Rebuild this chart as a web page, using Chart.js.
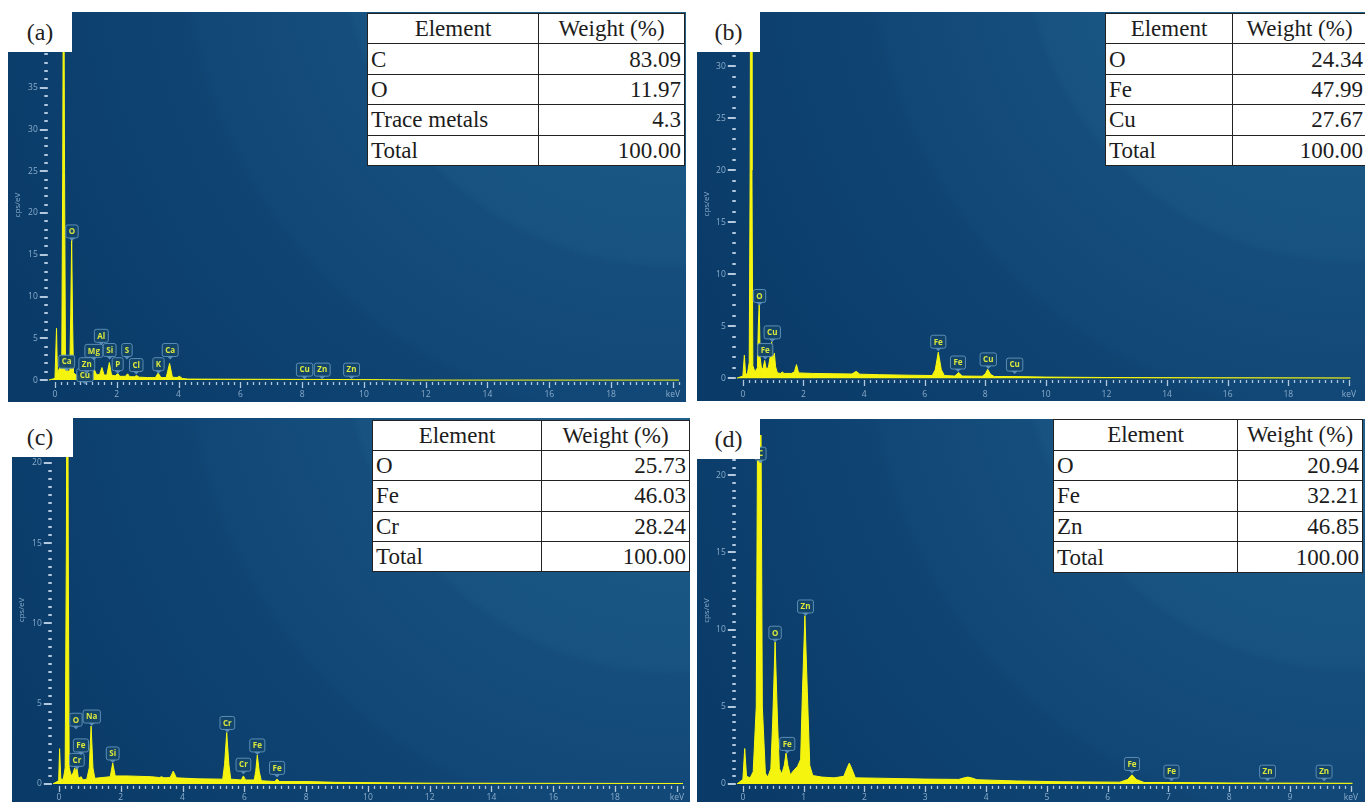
<!DOCTYPE html>
<html>
<head>
<meta charset="utf-8">
<script src="https://cdn.jsdelivr.net/npm/chart.js@4.4.0/dist/chart.umd.min.js"></script>
<style>
  html, body { margin: 0; padding: 0; background: #fff; }
  body { width: 1365px; height: 802px; position: relative; overflow: hidden; }
  .panel { position: absolute; }
  .panel canvas { display: block; }
  .tag { position: absolute; background: #fff; font-family: "Liberation Serif", "Times New Roman", serif;
         font-size: 24px; color: #222; display: flex; align-items: center; justify-content: center; }
  table.wt { position: absolute; border-collapse: collapse; background: #fff; table-layout: fixed;
             font-family: "Liberation Serif", "Times New Roman", serif; font-size: 23px; color: #1c1c1c; }
  table.wt td { border: 1.6px solid #222; padding: 0 3px; line-height: 1; white-space: nowrap; overflow: hidden; }
  table.wt td.c { text-align: center; }
  table.wt td.r { text-align: right; }
</style>
</head>
<body>

<div class="panel" style="left:8px;top:12px;"><canvas id="chartA" width="678" height="390"></canvas></div>
<div class="panel" style="left:697px;top:12px;"><canvas id="chartB" width="668" height="389"></canvas></div>
<div class="panel" style="left:12px;top:418px;"><canvas id="chartC" width="678" height="384"></canvas></div>
<div class="panel" style="left:697px;top:419px;"><canvas id="chartD" width="668" height="383"></canvas></div>

<div class="tag" style="left:8px;top:12px;width:64px;height:40px;">(a)</div>
<div class="tag" style="left:697px;top:12px;width:63px;height:40px;">(b)</div>
<div class="tag" style="left:7px;top:417px;width:66px;height:40px;">(c)</div>
<div class="tag" style="left:697px;top:419px;width:63px;height:40px;">(d)</div>

<script>
// ---- spectra: [keV, cps/eV] ----
const spectrumA = [
  [-0.2,0],[0.0,0.2],[0.05,6.2],[0.08,0.6],[0.12,1.2],[0.17,1.6],[0.22,2.0],[0.25,25],[0.28,60],[0.31,25],
  [0.34,1.8],[0.38,1.5],[0.43,1.0],[0.48,1.2],[0.51,8],[0.54,17],[0.57,7],[0.6,0.9],[0.68,0.6],[0.8,0.5],
  [0.95,0.6],[1.03,0.9],[1.1,0.6],[1.2,0.7],[1.28,1.2],[1.35,0.6],[1.45,0.7],[1.52,1.5],[1.59,0.6],[1.68,0.6],
  [1.76,2.1],[1.83,0.6],[1.95,0.5],[2.03,0.8],[2.1,0.45],[2.28,0.45],[2.35,0.75],[2.42,0.4],[2.57,0.4],[2.64,0.55],
  [2.72,0.35],[3.0,0.3],[3.25,0.3],[3.34,0.85],[3.43,0.3],[3.6,0.3],[3.71,2.0],[3.8,0.35],[3.95,0.3],[4.03,0.45],
  [4.12,0.2],[4.3,0.12],[6.0,0.1],[8.05,0.08],[10.5,0.05],[11.5,0],[20.2,0]
];
const spectrumB = [
  [-0.2,0],[0.0,0.2],[0.05,2.2],[0.09,0.4],[0.15,0.4],[0.21,1.5],[0.24,20],[0.27,60],[0.30,20],[0.33,1.2],
  [0.4,0.6],[0.48,1.0],[0.51,5],[0.54,7.1],[0.57,2],[0.62,0.8],[0.67,1.0],[0.72,1.7],[0.77,0.9],[0.84,1.0],
  [0.91,2.2],[0.95,3.5],[0.99,1.8],[1.04,2.4],[1.08,1.1],[1.14,0.5],[1.25,0.45],[1.3,0.6],[1.36,0.45],[1.6,0.45],
  [1.7,0.6],[1.77,1.3],[1.84,0.5],[2.3,0.45],[3.0,0.42],[3.6,0.4],[3.74,0.65],[3.86,0.38],[4.5,0.33],[5.5,0.28],
  [6.25,0.25],[6.35,0.8],[6.45,2.5],[6.55,0.8],[6.65,0.25],[7.0,0.2],[7.12,0.55],[7.24,0.2],[7.9,0.18],[8.0,0.4],
  [8.08,0.85],[8.18,0.35],[8.3,0.15],[8.95,0.15],[10,0.1],[12,0.06],[15,0.04],[20.06,0.02]
];
const spectrumC = [
  [-0.2,0],[-0.01,0.2],[0.02,2.2],[0.06,0.3],[0.14,0.3],[0.2,1.0],[0.24,15],[0.27,40],[0.3,15],[0.33,1.0],
  [0.4,0.5],[0.46,0.7],[0.51,1.0],[0.55,0.7],[0.58,1.0],[0.63,0.35],[0.72,0.45],[0.77,0.25],[0.9,0.3],[0.98,1.0],
  [1.04,3.6],[1.1,1.0],[1.16,0.35],[1.4,0.4],[1.66,0.45],[1.74,1.3],[1.82,0.5],[2.2,0.5],[3.0,0.45],[3.25,0.4],
  [3.32,0.45],[3.4,0.38],[3.6,0.4],[3.7,0.8],[3.8,0.38],[4.5,0.32],[5.3,0.3],[5.36,1.2],[5.43,3.2],[5.5,1.2],
  [5.56,0.3],[5.9,0.25],[5.97,0.5],[6.04,0.25],[6.32,0.25],[6.37,0.8],[6.42,1.8],[6.48,0.8],[6.55,0.2],[6.98,0.15],
  [7.06,0.3],[7.14,0.15],[8.05,0.15],[9,0.1],[12,0.05],[20.2,0.03]
];
const spectrumD = [
  [-0.1,0],[0.0,0.3],[0.03,2.3],[0.06,0.5],[0.12,0.4],[0.17,0.8],[0.22,5],[0.25,30],[0.27,40],[0.29,30],
  [0.32,5],[0.37,0.7],[0.41,0.45],[0.46,1.0],[0.49,4],[0.53,9.2],[0.57,4],[0.6,1.0],[0.64,0.65],[0.68,1.2],
  [0.71,2.0],[0.74,1.2],[0.78,0.6],[0.84,0.9],[0.9,1.15],[0.95,1.6],[0.98,6],[1.02,10.9],[1.06,6],[1.1,1.2],
  [1.15,0.55],[1.3,0.45],[1.5,0.4],[1.66,0.5],[1.71,1.0],[1.75,1.35],[1.79,1.0],[1.85,0.4],[2.2,0.38],[3.0,0.32],
  [3.55,0.3],[3.64,0.4],[3.7,0.45],[3.76,0.4],[3.85,0.28],[4.5,0.2],[5.2,0.15],[6.2,0.12],[6.33,0.3],[6.4,0.6],
  [6.47,0.3],[6.6,0.1],[7.06,0.1],[8,0.07],[10.03,0.05]
];

// ---- peak tags: [element, keV, tag height in cps/eV] ----
const peaksA = [
  ['Cu',0.97,0.6],['Ca',0.38,2.2],['Zn',1.03,1.9],['Mg',1.26,3.5],['Al',1.5,5.3],['Si',1.77,3.6],['P',2.03,1.9],
  ['S',2.33,3.6],['Cl',2.63,1.8],['K',3.35,1.9],['Ca',3.73,3.6],['O',0.55,17.8],['Cu',8.08,1.25],['Zn',8.65,1.25],['Zn',9.6,1.25]
];
const peaksB = [
  ['O',0.55,7.9],['Fe',0.74,2.7],['Cu',0.97,4.4],['Fe',6.45,3.5],['Fe',7.1,1.5],['Cu',8.1,1.8],['Cu',8.97,1.3]
];
const peaksC = [
  ['Cr',0.58,1.5],['Fe',0.71,2.4],['O',0.55,4.0],['Na',1.06,4.2],['Si',1.74,1.9],['Cr',5.45,3.8],['Cr',5.97,1.2],
  ['Fe',6.42,2.4],['Fe',7.06,1.0]
];
const peaksD = [
  ['C',0.29,21.4],['Zn',1.03,11.5],['O',0.53,9.8],['Fe',0.73,2.6],['Fe',6.4,1.3],['Fe',7.05,0.8],['Zn',8.63,0.8],['Zn',9.56,0.8]
];

// ---- composition tables ----
const elementsA = ['C', 'O', 'Trace metals', 'Total'];
const weightsA  = ['83.09', '11.97', '4.3', '100.00'];
const elementsB = ['O', 'Fe', 'Cu', 'Total'];
const weightsB  = ['24.34', '47.99', '27.67', '100.00'];
const elementsC = ['O', 'Fe', 'Cr', 'Total'];
const weightsC  = ['25.73', '46.03', '28.24', '100.00'];
const elementsD = ['O', 'Fe', 'Zn', 'Total'];
const weightsD  = ['20.94', '32.21', '46.85', '100.00'];

const xAxisTitle = 'keV';
const yAxisTitle = 'cps/eV';

const isMult = (v, s) => Math.abs(v / s - Math.round(v / s)) < 1e-6;

// dark blue screen background with soft rings from the top-right
const panelBg = {
  id: 'panelBg',
  beforeDraw(chart) {
    const { ctx, width, height } = chart;
    const cx = width * 0.98, cy = -height * 0.2;
    const g = ctx.createRadialGradient(cx, cy, 0, cx, cy, width * 1.15);
    g.addColorStop(0, '#23648f');
    g.addColorStop(0.22, '#1f5e8a');
    g.addColorStop(0.23, '#1c5985');
    g.addColorStop(0.42, '#175280');
    g.addColorStop(0.43, '#154e7c');
    g.addColorStop(0.62, '#114777');
    g.addColorStop(0.63, '#0f4473');
    g.addColorStop(0.82, '#0c3f6d');
    g.addColorStop(1, '#0a3a67');
    ctx.save();
    ctx.fillStyle = g;
    ctx.fillRect(0, 0, width, height);
    ctx.restore();
  }
};

// short minor / long major tick marks on both axes
const axisTicks = {
  id: 'axisTicks',
  afterDatasetsDraw(chart, args, o) {
    const { ctx, chartArea: a } = chart;
    const xs = chart.scales.x, ys = chart.scales.y;
    ctx.save();
    ctx.strokeStyle = 'rgba(195,215,235,0.9)';
    ctx.lineWidth = 1.3;
    xs.ticks.forEach(t => {
      if (t.value < -1e-9 || !isMult(t.value, o.xMinor)) return;
      const px = Math.round(xs.getPixelForValue(t.value)) + 0.5;
      const len = isMult(t.value, o.xMajor) ? 6 : 3;
      ctx.beginPath(); ctx.moveTo(px, a.bottom); ctx.lineTo(px, a.bottom + len); ctx.stroke();
    });
    ctx.lineWidth = 2;
    ys.ticks.forEach(t => {
      if (t.value < -1e-9 || !isMult(t.value, o.yMinor)) return;
      const py = Math.round(ys.getPixelForValue(t.value));
      const len = isMult(t.value, o.yMajor) ? 8 : 3.5;
      ctx.beginPath(); ctx.moveTo(a.left - 1 - len, py); ctx.lineTo(a.left - 1, py); ctx.stroke();
    });
    ctx.restore();
  }
};

// element tags above the peaks
const peakTags = {
  id: 'peakTags',
  afterDatasetsDraw(chart, args, o) {
    const { ctx } = chart;
    const xs = chart.scales.x, ys = chart.scales.y;
    ctx.save();
    ctx.font = 'bold 8px "Open Sans"';
    ctx.textAlign = 'center';
    ctx.textBaseline = 'middle';
    (o.tags || []).forEach(([name, e, v]) => {
      const px = xs.getPixelForValue(e), py = ys.getPixelForValue(v);
      const w = ctx.measureText(name).width + 6, h = 13;
      ctx.fillStyle = 'rgba(20,68,106,0.95)';
      ctx.strokeStyle = 'rgba(95,145,185,0.95)';
      ctx.lineWidth = 1;
      ctx.beginPath();
      ctx.roundRect(px - w / 2, py - h / 2, w, h, 2);
      ctx.fill(); ctx.stroke();
      ctx.beginPath();
      ctx.moveTo(px - 3, py + h / 2); ctx.lineTo(px, py + h / 2 + 3); ctx.lineTo(px + 3, py + h / 2);
      ctx.fillStyle = 'rgba(95,145,185,0.95)';
      ctx.fill();
      ctx.fillStyle = '#dbe83c';
      ctx.fillText(name, px, py + 0.5);
    });
    ctx.restore();
  }
};

function makeChart(id, spec, tags, ax) {
  const labelColor = '#8aaccb';
  return new Chart(document.getElementById(id), {
    type: 'line',
    data: {
      datasets: [{
        data: spec.map(p => ({ x: p[0], y: p[1] })),
        borderColor: '#f8f810',
        backgroundColor: '#f4f40e',
        borderWidth: 1,
        fill: 'origin',
        pointRadius: 0,
        tension: 0
      }]
    },
    options: {
      responsive: false,
      animation: false,
      devicePixelRatio: 1,
      layout: { autoPadding: false, padding: { left: 0, top: 0, right: ax.padRight, bottom: 0 } },
      plugins: {
        legend: { display: false },
        tooltip: { enabled: false },
        axisTicks: { xMinor: ax.xMinor, xMajor: ax.xMajor, yMinor: ax.yMinor, yMajor: ax.yMajor },
        peakTags: { tags: tags }
      },
      scales: {
        x: {
          type: 'linear', min: ax.xMin, max: ax.xMax,
          afterFit: s => { s.height = ax.xAxisH; },
          grid: { display: false, drawTicks: false },
          border: { display: false },
          ticks: {
            stepSize: ax.xMinor, autoSkip: false, maxRotation: 0, includeBounds: false,
            padding: ax.xPad, color: labelColor, font: { family: 'Open Sans', size: 8.5 },
            callback: v => (v > -1e-9 && isMult(v, ax.xMajor))
              ? (Math.abs(v - ax.xEnd) < 1e-6 ? xAxisTitle : String(Math.round(v))) : ''
          }
        },
        y: {
          type: 'linear', min: ax.yMin, max: ax.yMax,
          afterFit: s => { s.width = ax.yAxisW; },
          grid: { display: false, drawTicks: false },
          border: { display: false },
          title: { display: true, text: yAxisTitle, color: labelColor,
                   font: { family: 'Open Sans', size: 8 }, padding: { top: 5, bottom: 0 } },
          ticks: {
            stepSize: ax.yMinor, autoSkip: false, includeBounds: false,
            padding: 11, color: labelColor, font: { family: 'Open Sans', size: 8.5 },
            callback: v => (v > -1e-9 && isMult(v, ax.yMajor)) ? String(Math.round(v)) : ''
          }
        }
      }
    },
    plugins: [panelBg, axisTicks, peakTags]
  });
}

makeChart('chartA', spectrumA, peaksA, { xMin: -0.2, xMax: 20.2, xEnd: 20, xMinor: 0.2, xMajor: 2,
  yMin: -0.23, yMax: 42.15, yMinor: 1, yMajor: 5, yAxisW: 40.8, xAxisH: 20, xPad: 7, padRight: 4.8 });
makeChart('chartB', spectrumB, peaksB, { xMin: -0.2, xMax: 20.06, xEnd: 20, xMinor: 0.2, xMajor: 2,
  yMin: -0.18, yMax: 33.67, yMinor: 1, yMajor: 5, yAxisW: 39.8, xAxisH: 21, xPad: 9, padRight: 0 });
makeChart('chartC', spectrumC, peaksC, { xMin: -0.2, xMax: 20.2, xEnd: 20, xMinor: 0.2, xMajor: 2,
  yMin: -0.12, yMax: 21.79, yMinor: 0.5, yMajor: 5, yAxisW: 40.8, xAxisH: 16, xPad: 7, padRight: 4.8 });
makeChart('chartD', spectrumD, peaksD, { xMin: -0.1, xMax: 10.03, xEnd: 10, xMinor: 0.1, xMajor: 1,
  yMin: -0.12, yMax: 22.6, yMinor: 0.5, yMajor: 5, yAxisW: 39.8, xAxisH: 16, xPad: 7, padRight: 0 });

function buildTable(box, elements, weights) {
  const t = document.createElement('table');
  t.className = 'wt';
  Object.assign(t.style, { left: box.x + 'px', top: box.y + 'px', width: box.w + 'px', height: box.h + 'px' });
  const rowH = box.h / (elements.length + 1);
  let html = '<colgroup><col style="width:' + box.c1 + 'px"><col></colgroup>';
  html += '<tr style="height:' + rowH + 'px"><td class="c">Element</td><td class="c">Weight (%)</td></tr>';
  elements.forEach((el, i) => {
    html += '<tr style="height:' + rowH + 'px"><td>' + el + '</td><td class="r">' + weights[i] + '</td></tr>';
  });
  t.innerHTML = html;
  document.body.appendChild(t);
}

buildTable({ x: 367, y: 13, w: 318, h: 152, c1: 171 }, elementsA, weightsA);
buildTable({ x: 1105, y: 13, w: 262, h: 152, c1: 127 }, elementsB, weightsB);
buildTable({ x: 372, y: 420, w: 318, h: 151, c1: 169 }, elementsC, weightsC);
buildTable({ x: 1053, y: 419, w: 310, h: 153, c1: 184 }, elementsD, weightsD);
</script>
</body>
</html>
